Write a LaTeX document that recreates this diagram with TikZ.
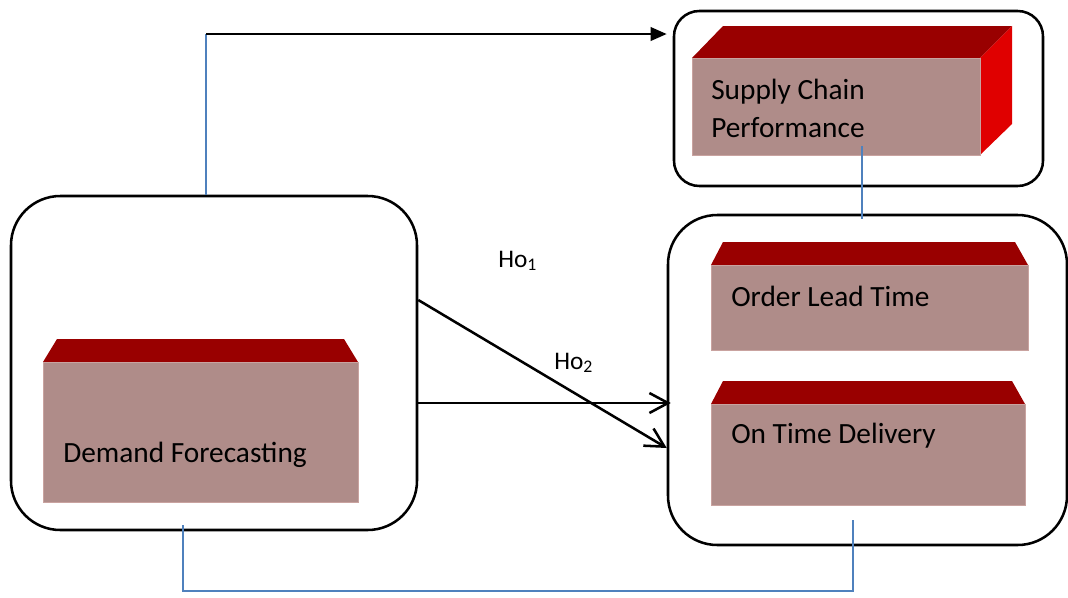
\documentclass[tikz,border=0pt]{standalone}
\usepackage{fontspec}
\setmainfont{Carlito}
\usetikzlibrary{arrows.meta,fit}
\definecolor{cxtopo}{HTML}{990000}
\definecolor{cxfrente}{HTML}{AF8C89}
\definecolor{cxborda}{HTML}{C9A3A0}
\definecolor{cxlado}{HTML}{E00000}
\definecolor{cxliga}{HTML}{4F81BD}
\tikzset{
  moldura/.style={draw=black,line width=1.9pt,rounded corners=37pt,inner sep=0pt},
  frente/.style={fill=cxfrente,draw=cxborda,line width=0.6pt},
  topo/.style={fill=cxtopo},
  lado/.style={fill=cxlado},
  rot/.style={font=\fontsize{22}{28.5}\selectfont,inner sep=0pt,anchor=base west,align=left},
  hipo/.style={font=\fontsize{19}{21}\selectfont,inner sep=0pt,anchor=base west},
  liga/.style={draw=cxliga,line width=1.7pt},
  seta/.style={line width=1.9pt,-{Straight Barb[length=14pt,width=15pt]}},
  setatopo/.style={line width=1.9pt,-{Triangle[length=12pt,width=10pt]}},
}
\begin{document}
\begin{tikzpicture}[x=0.75pt,y=-0.75pt]
  \useasboundingbox (0,0) rectangle (1068,597);
  % molduras
  \node[moldura,fit={(11,196) (417,530)}] (demanda) {};
  \node[moldura,rounded corners=19pt,fit={(674,11) (1043,186)}] (desempenho) {};
  \node[moldura,fit={(668,215) (1067,545)}] (resultados) {};
  % caixa 3D: supply chain performance
  \fill[topo] (692,58) -- (723,26) -- (1012,26) -- (980,58) -- cycle;
  \fill[lado] (980,58) -- (1012,26) -- (1012,124) -- (980,155) -- cycle;
  \draw[frente] (692,58) rectangle (980,155);
  \node[rot] (scp) at (711,137) {Supply Chain\\Performance};
  % order lead time
  \fill[topo] (711,265) -- (723,242) -- (1015,242) -- (1028,265) -- cycle;
  \draw[frente] (711,265) rectangle (1028,350);
  \node[rot] (olt) at (731,306) {Order Lead Time};
  % on time delivery
  \fill[topo] (711,404) -- (723,381) -- (1012,381) -- (1025,404) -- cycle;
  \draw[frente] (711,404) rectangle (1025,505);
  \node[rot] (otd) at (731,443) {On Time Delivery};
  % demand forecasting
  \fill[topo] (43,362) -- (57,339) -- (344,339) -- (358,362) -- cycle;
  \draw[frente] (43,362) rectangle (358,502);
  \node[rot] (df) at (63,462) {Demand Forecasting};
  % hipoteses
  \node[hipo] (ho1) at (498,267) {Ho\textsubscript{1}};
  \node[hipo] (ho2) at (554,369) {Ho\textsubscript{2}};
  % ligacoes
  \coordinate (canto) at (206,34);
  \coordinate (p1) at (862,146);
  \coordinate (b1) at (183,525);
  \coordinate (b2) at (853,520);
  \draw[liga] (demanda.north -| canto) -- (canto);
  \draw[setatopo] (canto) -- ([xshift=-4.5pt]desempenho.west |- canto);
  \draw[seta] (demanda.east |- 0,300) -- (resultados.west |- 0,448);
  \draw[seta] (demanda.east |- 0,403) -- ([xshift=3pt]resultados.west |- 0,403);
  \draw[liga] (p1) -- ([yshift=-4pt]p1 |- resultados.north);
  \draw[liga] (b1) -- (b1 |- 0,591) -- (b2 |- 0,591) -- (b2);
\end{tikzpicture}
\end{document}
